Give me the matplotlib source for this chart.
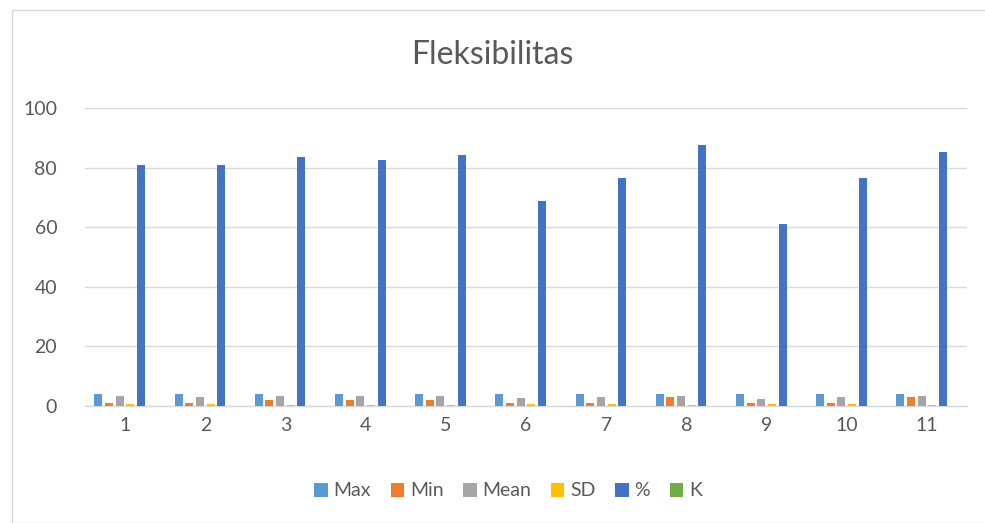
import matplotlib
matplotlib.use("Agg")
import matplotlib.pyplot as plt
import numpy as np
from matplotlib.patches import Rectangle

plt.rcParams['font.family'] = ['Lato', 'DejaVu Sans']

categories = ["1", "2", "3", "4", "5", "6", "7", "8", "9", "10", "11"]
max_vals = [4, 4, 4, 4, 4, 4, 4, 4, 4, 4, 4]
min_vals = [1, 1, 2, 2, 2, 1, 1, 3, 1, 1, 3]
mean_vals = [3.3, 3.1, 3.4, 3.2, 3.4, 2.6, 3.0, 3.4, 2.3, 3.0, 3.3]
sd_vals = [0.7, 0.6, 0.4, 0.4, 0.3, 0.8, 0.7, 0.2, 0.8, 0.7, 0.2]
pct_vals = [80.9, 81.0, 83.6, 82.6, 84.3, 68.8, 76.5, 87.7, 61.1, 76.5, 85.3]
k_vals = [0, 0, 0, 0, 0, 0, 0, 0, 0, 0, 0]

series = [("Max", max_vals, "#5B9BD5"), ("Min", min_vals, "#ED7D31"),
          ("Mean", mean_vals, "#A5A5A5"), ("SD", sd_vals, "#FFC000"),
          ("%", pct_vals, "#4472C4"), ("K", k_vals, "#70AD47")]

fig = plt.figure(figsize=(9.85, 5.23), dpi=100)
fig.patches.append(Rectangle((12/985, 0), 1.0, 1 - 10/523, transform=fig.transFigure,
                             fill=False, edgecolor="#D9D9D9", linewidth=1.0))
ax = fig.add_axes([85/985, 1 - 406/523, (967 - 85)/985, (406 - 108)/523])

x = np.arange(1, len(categories) + 1)
step = 0.133
width = 0.1
n = len(series)
for i, (name, vals, col) in enumerate(series):
    ax.bar(x + (i - (n - 1) / 2) * step, vals, width=width, color=col, label=name, zorder=3)

ax.set_xlim(0.5, len(categories) + 0.5)
ax.set_ylim(0, 100)
ax.set_yticks(range(0, 101, 20))
ax.set_xticks(x)
ax.set_xticklabels(categories)
ax.yaxis.grid(True, color="#D9D9D9", linewidth=1.0, zorder=0)
for s in ["top", "right", "left"]:
    ax.spines[s].set_visible(False)
ax.spines["bottom"].set_color("#D9D9D9")
ax.spines["bottom"].set_linewidth(1.0)
ax.tick_params(axis="both", length=0, labelsize=14, colors="#595959", pad=8)
ax.tick_params(axis="y", pad=20)

fig.text(0.5, 1 - 55/523, "Fleksibilitas", ha="center", va="center", fontsize=23,
         color="#595959")

leg = fig.legend(loc="center", bbox_to_anchor=(508/985, 1 - 491/523), ncol=6, frameon=False,
                 fontsize=14, handlelength=0.7, handleheight=0.7, handletextpad=0.3,
                 columnspacing=1.0, labelcolor="#595959")

fig.savefig("out.png", dpi=100)
